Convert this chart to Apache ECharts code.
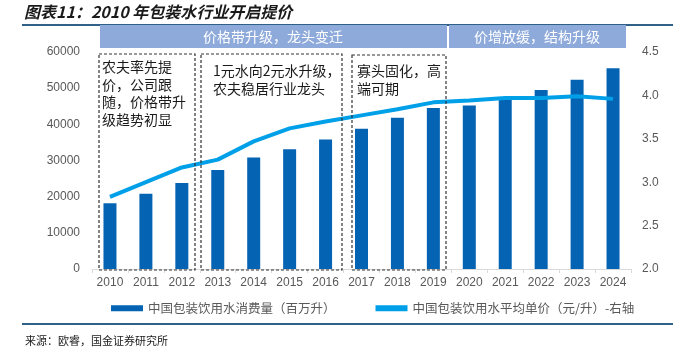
<!DOCTYPE html>
<html><head><meta charset="utf-8">
<script src="https://cdn.jsdelivr.net/npm/echarts@6/dist/echarts.min.js"></script>
<style>html,body{margin:0;padding:0;background:#fff}#c{width:673px;height:353px}</style>
</head><body><div id="c"></div>
<script>
var years = ['2010','2011','2012','2013','2014','2015','2016','2017','2018','2019','2020','2021','2022','2023','2024'];
var consumption = [18200,20800,23800,27400,30800,33100,35800,38800,41800,44500,45200,47500,49500,52300,55500];
var avgPrice = [2.83,3.00,3.17,3.26,3.47,3.62,3.70,3.77,3.84,3.92,3.94,3.97,3.97,3.99,3.96];
var leftTicks = {min:0,max:60000,interval:10000};
var rightTicks = {min:2.0,max:4.5,interval:0.5};
var seriesNames = ['中国包装饮用水消费量（百万升）','中国包装饮用水平均单价（元/升）-右轴'];
var titleText = '图表11：2010 年包装水行业开启提价';
var sourceText = '来源：欧睿，国金证券研究所';
var bandTexts = ['价格带升级，龙头变迁','价增放缓，结构升级'];
var boxTexts = ['农夫率先提\n价，公司跟\n随，价格带升\n级趋势初显','1元水向2元水升级，\n农夫稳居行业龙头','寡头固化，高\n端可期'];

var chart = echarts.init(document.getElementById('c'));
var F = '"Noto Sans CJK SC", "Liberation Sans", sans-serif';
var axisLbl = {color:'#595959', fontSize:12, fontFamily:'"Liberation Sans", Arial, sans-serif'};
var boxStyle = {fill:'none', stroke:'#333', lineWidth:1.2, lineDash:[3,2]};
chart.setOption({
  animation:false,
  grid:{left:92,right:42,top:52,bottom:84},
  legend:{
    left:106, top:297, itemGap:40, itemWidth:32, itemHeight:6,
    textStyle:{color:'#595959', fontSize:12.5, fontFamily:F},
    data:[{name:seriesNames[0], icon:'rect'},{name:seriesNames[1], icon:'rect', itemStyle:{color:'#00a0e9'}}]
  },
  xAxis:{type:'category', data:years,
    axisLine:{lineStyle:{color:'#d9d9d9'}},
    axisTick:{show:true, length:4, lineStyle:{color:'#d9d9d9'}},
    axisLabel:Object.assign({margin:8}, axisLbl)},
  yAxis:[
    {type:'value', min:leftTicks.min, max:leftTicks.max, interval:leftTicks.interval,
     splitLine:{show:false}, axisLine:{show:false}, axisTick:{show:false},
     axisLabel:Object.assign({margin:12, formatter:function(v){return String(v);}}, axisLbl)},
    {type:'value', min:rightTicks.min, max:rightTicks.max, interval:rightTicks.interval,
     splitLine:{show:false}, axisLine:{show:false}, axisTick:{show:false},
     axisLabel:Object.assign({margin:11, formatter:function(v){return v.toFixed(1);}}, axisLbl)}
  ],
  series:[
    {name:seriesNames[0], type:'bar', data:consumption, barWidth:13, itemStyle:{color:'#0563b3'}, z:2},
    {name:seriesNames[1], type:'line', yAxisIndex:1, data:avgPrice, symbol:'none',
     lineStyle:{color:'#00a0e9', width:4}, itemStyle:{color:'#00a0e9'}, z:3}
  ],
  graphic:[
    {type:'text', left:24, top:4, style:{text:titleText, font:'italic bold 16px '+F, fill:'#1a1a1a'}},
    {type:'line', shape:{x1:22,y1:25,x2:673,y2:25}, style:{stroke:'#2f6088', lineWidth:2}},
    {type:'rect', shape:{x:100,y:25,width:347,height:23}, style:{fill:'#8eaadb'}},
    {type:'rect', shape:{x:449,y:25,width:177,height:23}, style:{fill:'#8eaadb'}},
    {type:'text', x:273, y:37, style:{text:bandTexts[0], font:'14px '+F, fill:'#fff', align:'center', verticalAlign:'middle'}},
    {type:'text', x:537, y:37, style:{text:bandTexts[1], font:'14px '+F, fill:'#fff', align:'center', verticalAlign:'middle'}},
    {type:'rect', z:10, shape:{x:99,y:54,width:96,height:216}, style:boxStyle},
    {type:'rect', z:10, shape:{x:201,y:54,width:141,height:216}, style:boxStyle},
    {type:'rect', z:10, shape:{x:352,y:55,width:94,height:215}, style:boxStyle},
    {type:'text', z:11, x:102, y:58, style:{text:boxTexts[0], font:'14px '+F, fill:'#1a1a1a', lineHeight:17.5}},
    {type:'text', z:11, x:213, y:62, style:{text:boxTexts[1], font:'14px '+F, fill:'#1a1a1a', lineHeight:18}},
    {type:'text', z:11, x:357, y:62, style:{text:boxTexts[2], font:'14px '+F, fill:'#1a1a1a', lineHeight:18}},
    {type:'line', shape:{x1:22,y1:324,x2:673,y2:324}, style:{stroke:'#2f6088', lineWidth:2}},
    {type:'text', left:25, top:335, style:{text:sourceText, font:'11px '+F, fill:'#1a1a1a'}}
  ]
});
</script></body></html>
